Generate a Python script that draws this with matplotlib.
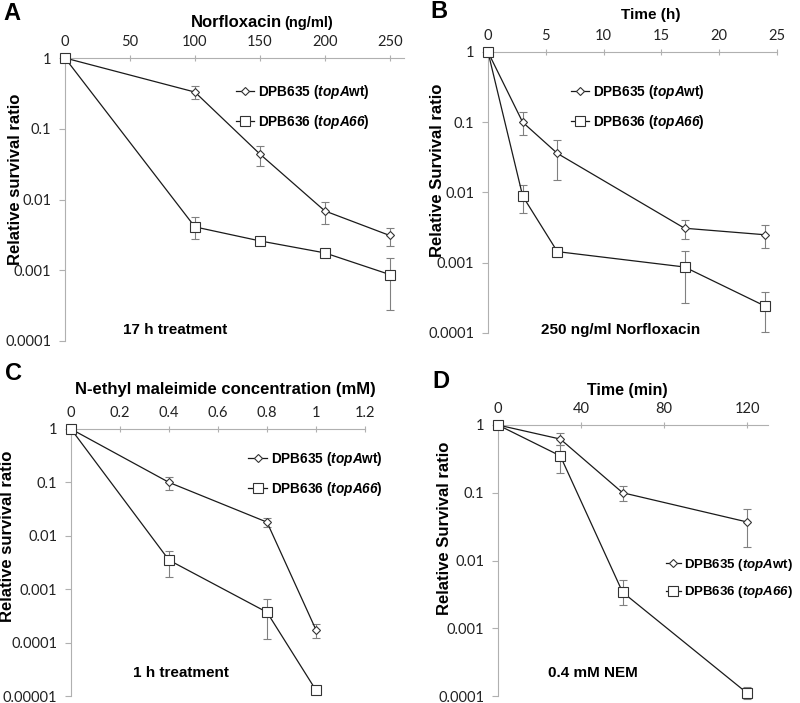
import numpy as np
import matplotlib
matplotlib.use('Agg')
import matplotlib.pyplot as plt
from matplotlib.ticker import FixedLocator, FuncFormatter

plt.rcParams['mathtext.fontset'] = 'custom'
plt.rcParams['mathtext.rm'] = 'Liberation Sans:italic:bold'
plt.rcParams['mathtext.it'] = 'Liberation Sans:italic:bold'
plt.rcParams['mathtext.bf'] = 'Liberation Sans:italic:bold'

W, H = 800, 703
LBL = 'Liberation Sans'
TICKF = 'Lato'

# panel A: norfloxacin dose (ng/ml)
a_x = [0, 100, 150, 200, 250]
a_wt = [1, 0.33, 0.044, 0.0069, 0.0031]
a_wt_lo = [1, 0.26, 0.030, 0.0045, 0.0022]
a_wt_hi = [1, 0.40, 0.057, 0.0093, 0.0040]
a_mut = [1, 0.0041, 0.0026, 0.00176, 0.00087]
a_mut_lo = [1, 0.0028, 0.0024, 0.0016, 0.00027]
a_mut_hi = [1, 0.0057, 0.0028, 0.0019, 0.00148]

# panel B: time (h)
b_x = [0, 3, 6, 17, 24]
b_wt = [1, 0.1, 0.036, 0.0031, 0.0025]
b_wt_lo = [1, 0.066, 0.015, 0.0022, 0.0016]
b_wt_hi = [1, 0.139, 0.056, 0.0041, 0.0034]
b_mut = [1, 0.0089, 0.00144, 0.00087, 0.00024]
b_mut_lo = [1, 0.0051, 0.0012, 0.00027, 0.000105]
b_mut_hi = [1, 0.0128, 0.00166, 0.00148, 0.00038]

# panel C: NEM concentration (mM)
c_x = [0, 0.4, 0.8, 1.0]
c_wt = [1, 0.1, 0.018, 0.000173]
c_wt_lo = [1, 0.073, 0.0145, 0.000124]
c_wt_hi = [1, 0.124, 0.022, 0.00022]
c_mut = [1, 0.0035, 0.00037, 0.0000128]
c_mut_lo = [1, 0.0017, 0.000117, 0.0000128]
c_mut_hi = [1, 0.0052, 0.00065, 0.0000128]

# panel D: time (min)
d_x = [0, 30, 60, 120]
d_wt = [1, 0.62, 0.1, 0.037]
d_wt_lo = [1, 0.51, 0.075, 0.016]
d_wt_hi = [1, 0.75, 0.124, 0.058]
d_mut = [1, 0.35, 0.0034, 0.00011]
d_mut_lo = [1, 0.195, 0.0022, 0.000091]
d_mut_hi = [1, 0.51, 0.0052, 0.000138]

# italic part goes through mathtext (rm is set to bold italic)
lab_wt = r'DPB635 ($\mathrm{topA}$wt)'
lab_mut = r'DPB636 ($\mathrm{topA66}$)'


def fx(x):
    return x / W


def fy(y):
    return 1 - y / H


def ytick_fmt(v, pos):
    return ('%.6f' % v).rstrip('0').rstrip('.')


def panel(box, x, wt, wt_lo, wt_hi, mut, mut_lo, mut_hi, xlim, xticks, ymin):
    l, t, r, b = box
    ax = fig.add_axes([fx(l), fy(b), fx(r - l), (b - t) / H])
    ax.set_yscale('log')
    ax.set_xlim(*xlim)
    ax.set_ylim(ymin, 1)
    for sp in ['right', 'bottom']:
        ax.spines[sp].set_visible(False)
    for sp in ['left', 'top']:
        ax.spines[sp].set_color('#b0b0b0')
        ax.spines[sp].set_linewidth(0.8)
    ax.xaxis.tick_top()
    ax.xaxis.set_major_locator(FixedLocator(xticks))
    ax.xaxis.set_major_formatter(FuncFormatter(lambda v, p: ('%g' % v)))
    ax.yaxis.set_major_locator(FixedLocator([10.0 ** k for k in range(0, int(np.log10(ymin)) - 1, -1)]))
    ax.yaxis.set_minor_locator(FixedLocator([]))
    ax.yaxis.set_major_formatter(FuncFormatter(ytick_fmt))
    ax.tick_params(axis='x', direction='inout', length=5, width=0.8, color='#b0b0b0',
                   pad=4, labelsize=10.5)
    ax.tick_params(axis='y', direction='out', length=4, width=0.8, color='#b0b0b0',
                   pad=6, labelsize=10.5)
    for lb in ax.get_xticklabels() + ax.get_yticklabels():
        lb.set_fontfamily(TICKF)
        lb.set_color('#222222')
    for ys, lo, hi, mk, ms, lab in [(wt, wt_lo, wt_hi, 'D', 4.3, lab_wt),
                                    (mut, mut_lo, mut_hi, 's', 6.5, lab_mut)]:
        ys = np.array(ys)
        err = [ys - np.array(lo), np.array(hi) - ys]
        ax.errorbar(x, ys, yerr=err, fmt='none', ecolor='#808080', elinewidth=0.8,
                    capsize=3, capthick=0.8, clip_on=False, zorder=2)
        ax.plot(x, ys, color='#1a1a1a', lw=0.9, marker=mk, ms=ms, mfc='white',
                mec='#333333', mew=0.8, clip_on=False, label=lab, zorder=3)
    return ax


def legend(ax, x, y, hl, size=9.8):
    ax.legend(loc='upper left', bbox_to_anchor=(fx(x), fy(y)), bbox_transform=fig.transFigure,
              frameon=False, handlelength=hl, handletextpad=0.3, labelspacing=0.85,
              borderpad=0, borderaxespad=0, prop={'family': LBL, 'weight': 'bold', 'size': size})


fig = plt.figure(figsize=(W / 100, H / 100), dpi=100)

axA = panel((65, 58, 404, 341), a_x, a_wt, a_wt_lo, a_wt_hi, a_mut, a_mut_lo, a_mut_hi,
            (0, 261), [0, 50, 100, 150, 200, 250], 1e-4)
legend(axA, 236, 83, 1.3)
axB = panel((488, 52, 777, 333), b_x, b_wt, b_wt_lo, b_wt_hi, b_mut, b_mut_lo, b_mut_hi,
            (0, 25), [0, 5, 10, 15, 20, 25], 1e-4)
legend(axB, 571, 83, 1.3)
axC = panel((71, 429, 365, 696), c_x, c_wt, c_wt_lo, c_wt_hi, c_mut, c_mut_lo, c_mut_hi,
            (0, 1.2), [0, 0.2, 0.4, 0.6, 0.8, 1.0, 1.2], 1e-5)
legend(axC, 248, 450, 1.4)
axD = panel((498, 425, 768, 696), d_x, d_wt, d_wt_lo, d_wt_hi, d_mut, d_mut_lo, d_mut_hi,
            (0, 130), [0, 40, 80, 120], 1e-4)
legend(axD, 666, 557, 1.1, size=9.5)

bold = dict(family=LBL, weight='bold', color='black')
# panel letters
for s, x, y in [('A', 3, 20), ('B', 430, 18), ('C', 5, 380), ('D', 432, 388)]:
    fig.text(fx(x), fy(y), s, fontsize=17, va='baseline', **bold)

# axis titles
fig.text(fx(281.7), fy(26.7), 'Norfloxacin', fontsize=12, ha='right', va='baseline', **bold)
fig.text(fx(284), fy(26.7), '(ng/ml)', fontsize=10.5, ha='left', va='baseline', **bold)
fig.text(fx(651), fy(15), 'Time (h)', fontsize=11, ha='center', va='center', **bold)
fig.text(fx(225.5), fy(389.3), 'N-ethyl maleimide concentration (mM)', fontsize=12,
         ha='center', va='center', **bold)
fig.text(fx(627), fy(390), 'Time (min)', fontsize=11.5, ha='center', va='center', **bold)

# y labels
fig.text(fx(16), fy(179), 'Relative survival ratio', fontsize=12, rotation=90,
         ha='center', va='center', **bold)
fig.text(fx(437), fy(170), 'Relative Survival ratio', fontsize=12, rotation=90,
         ha='center', va='center', **bold)
fig.text(fx(8), fy(536), 'Relative survival ratio', fontsize=12, rotation=90,
         ha='center', va='center', **bold)
fig.text(fx(444), fy(528), 'Relative Survival ratio', fontsize=12, rotation=90,
         ha='center', va='center', **bold)

# condition notes
fig.text(fx(175), fy(330), '17 h treatment', fontsize=11, ha='center', va='center', **bold)
fig.text(fx(621), fy(330), '250 ng/ml Norfloxacin', fontsize=11, ha='center', va='center', **bold)
fig.text(fx(181), fy(673), '1 h treatment', fontsize=11, ha='center', va='center', **bold)
fig.text(fx(593), fy(673), '0.4 mM NEM', fontsize=11, ha='center', va='center', **bold)

fig.savefig('out.png', dpi=100)
